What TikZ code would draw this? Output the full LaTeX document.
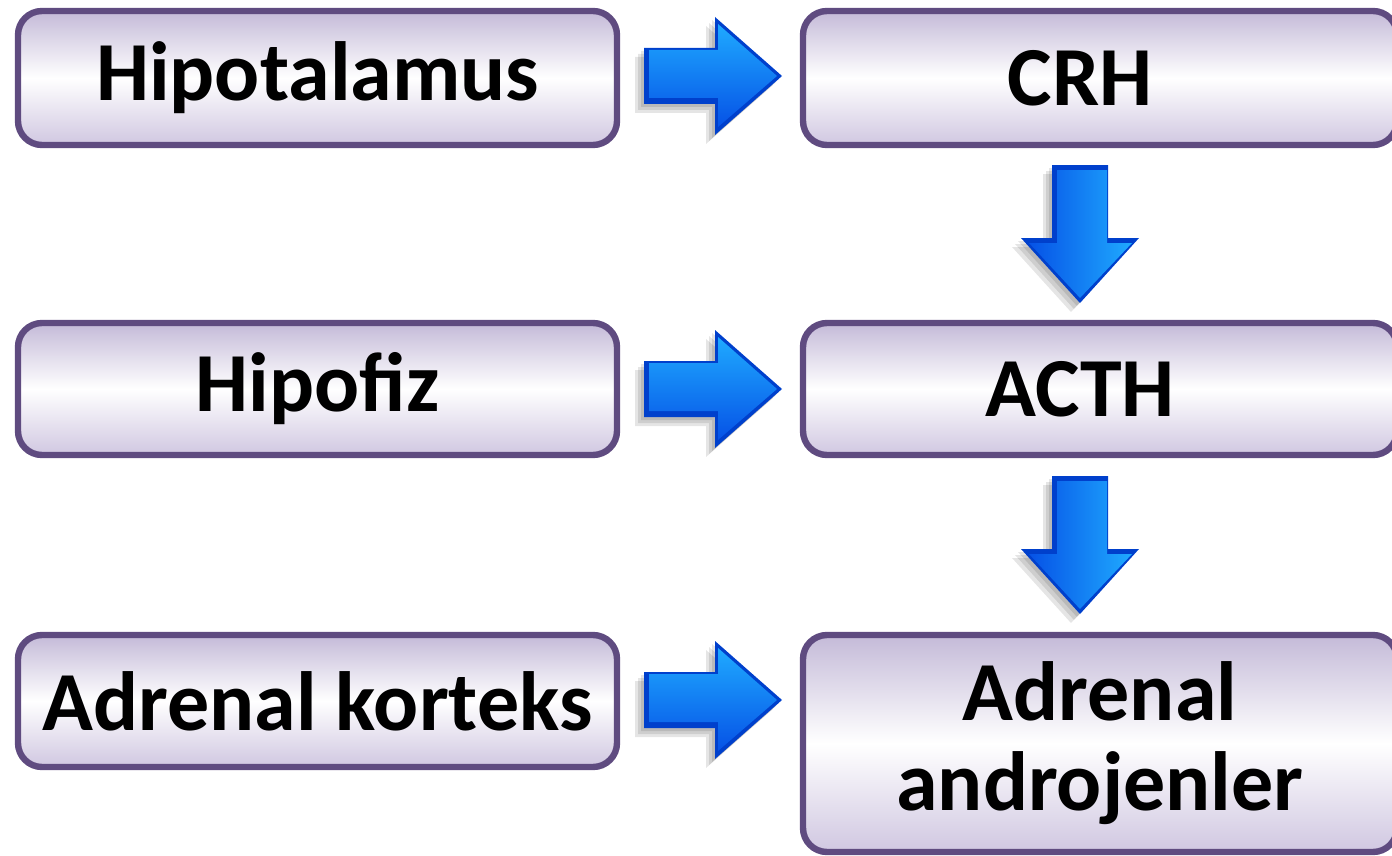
\documentclass[tikz,border=0pt]{standalone}
\usepackage{fontspec}
\setmainfont{Carlito}
\usetikzlibrary{calc}
\definecolor{boxline}{HTML}{5F4B80}
\definecolor{boxtop}{HTML}{C4BAD8}
\definecolor{boxbot}{HTML}{D0C7E1}
\definecolor{blueL}{HTML}{1FAAFF}
\definecolor{blueD}{HTML}{0652E6}
\definecolor{blueE}{HTML}{0040CC}
\tikzset{
  x=0.5pt, y=-0.5pt,
  box/.style={draw=boxline, line width=3.2pt, rounded corners=12pt,
    top color=boxtop, bottom color=boxbot, middle color=white,
    inner sep=0pt, minimum width=299.5pt, minimum height=66pt},
  lbl/.style={font=\fontsize{42}{45}\selectfont\bfseries, align=center},
  shadowfill/.style={fill=black, opacity=0.10},
  rarrow/.pic={
    \foreach \s in {3,6,9}{
      \fill[shadowfill] ($(-69,-28)+(-\s,\s)$) -- ($(2,-28)+(-\s,\s)$) -- ($(2,-59)+(-\s,\s)$) -- ($(69,0)+(-\s,\s)$) -- ($(2,59)+(-\s,\s)$) -- ($(2,28)+(-\s,\s)$) -- ($(-69,28)+(-\s,\s)$) -- cycle;
    }
    \fill[blueE] (-69,-28) -- (2,-28) -- (2,-59) -- (69,0) -- (2,59) -- (2,28) -- (-69,28) -- cycle;
    \shade[top color=blueL, bottom color=blueD]
      (-64,-26) -- (5,-26) -- (5,-52) -- (64,0) -- (5,51) -- (5,22) -- (-64,22) -- cycle;
  },
  darrow/.pic={
    \foreach \s in {3,6,9}{
      \fill[shadowfill] ($(-28,-69)+(-\s,\s)$) -- ($(28,-69)+(-\s,\s)$) -- ($(28,4)+(-\s,\s)$) -- ($(59,4)+(-\s,\s)$) -- ($(0,69)+(-\s,\s)$) -- ($(-59,4)+(-\s,\s)$) -- ($(-28,4)+(-\s,\s)$) -- cycle;
    }
    \fill[blueE] (-28,-69) -- (28,-69) -- (28,4) -- (59,4) -- (0,69) -- (-59,4) -- (-28,4) -- cycle;
    \shade[left color=blueD, right color=blueL]
      (-23,-64) -- (27,-64) -- (27,9) -- (52,9) -- (0,64) -- (-51,9) -- (-23,9) -- cycle;
  }
}
\begin{document}
\begin{tikzpicture}
\useasboundingbox (0,0) rectangle (1392,856);
\node[box, minimum height=67pt, lbl] (L1) at (317.5,78) {Hipotalamus};
\node[box, lbl] (L2) at (317.5,389) {Hipofiz};
\node[box, lbl] (L3) at (317.5,701) {Adrenal korteks};
\node[box, minimum height=67pt, minimum width=297pt, lbl] (R1) at (1100,78) {CRH\hspace*{20pt}};
\node[box, minimum width=297pt, lbl] (R2) at (1100,389) {ACTH\hspace*{20pt}};
\node[box, minimum width=297pt, minimum height=108.5pt, lbl] (R3) at (1100,743.5) {Adrenal\\androjenler};
\pic at ($(L1.east)!0.5!(R1.west)+(3,-2)$) {rarrow};
\pic at ($(L2.east)!0.5!(R2.west)+(3,0)$) {rarrow};
\pic at ($(L3.east)!0.5!(R3.west |- L3.east)+(3,-1)$) {rarrow};
\pic at ($(R1.south)!0.5!(R2.north)+(-20,0)$) {darrow};
\pic at ($(R2.south)!0.5!(R3.north)+(-20,0)$) {darrow};
\end{tikzpicture}
\end{document}
